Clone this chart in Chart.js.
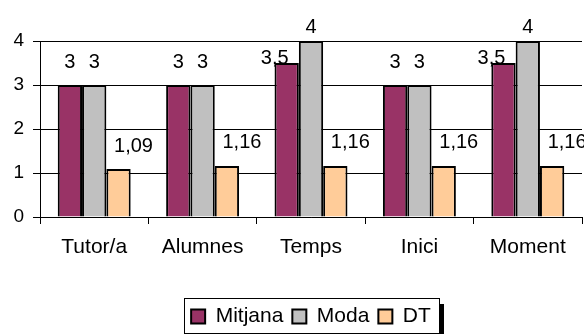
<!DOCTYPE html>
<html>
<head>
<meta charset="utf-8">
<script src="https://cdn.jsdelivr.net/npm/chart.js"></script>
<style>
  body { margin: 0; background: #fff; }
  #wrap { width: 584px; height: 334px; }
</style>
</head>
<body>
<div id="wrap"><canvas id="chart" width="584" height="334"></canvas></div>
<script>
const categories = ["Tutor/a", "Alumnes", "Temps", "Inici", "Moment"];
const mitjana = [3, 3, 3.5, 3, 3.5];
const moda = [3, 3, 4, 3, 4];
const dt = [1.09, 1.16, 1.16, 1.16, 1.16];
const yTicks = [0, 1, 2, 3, 4];

const FONT = "'Liberation Sans', Arial, sans-serif";

// value labels above bars, comma as decimal mark
const valueLabels = {
  id: "valueLabels",
  afterDatasetsDraw(chart) {
    const ctx = chart.ctx;
    ctx.save();
    ctx.font = "20px " + FONT;
    ctx.fillStyle = "#000";
    ctx.textAlign = "center";
    ctx.textBaseline = "middle";
    chart.data.datasets.forEach((ds, di) => {
      chart.getDatasetMeta(di).data.forEach((bar, i) => {
        const v = ds.data[i];
        let dx = 0;
        let y = bar.y - 23;
        if (di === 2) dx = 15;
        if (di === 0 && v % 1 !== 0) { dx = -12; y = bar.y - 5; }
        if (y < 27) y = 27;
        ctx.fillText(String(v).replace(".", ","), bar.x + dx, y);
      });
    });
    ctx.restore();
  }
};

// frame round the legend, with its shadow
const legendFrame = {
  id: "legendFrame",
  afterDraw(chart) {
    const hb = chart.legend.legendHitBoxes;
    if (!hb || !hb.length) return;
    const last = hb[hb.length - 1];
    const left = Math.round(hb[0].left - 7);
    const right = Math.round(last.left + last.width + 8);
    const top = Math.round(hb[0].top - 8);
    const bottom = Math.round(hb[0].top + 27);
    const ctx = chart.ctx;
    ctx.save();
    ctx.strokeStyle = "#000";
    ctx.lineWidth = 1;
    ctx.strokeRect(left + 0.5, top + 0.5, right - left, bottom - top);
    ctx.fillStyle = "#000";
    ctx.fillRect(right + 1, top + 6, 4, 334 - top);
    ctx.restore();
  }
};

new Chart(document.getElementById("chart"), {
  type: "bar",
  data: {
    labels: categories,
    datasets: [
      { label: "Mitjana", data: mitjana, backgroundColor: "#993366" },
      { label: "Moda", data: moda, backgroundColor: "#C0C0C0" },
      { label: "DT", data: dt, backgroundColor: "#FFCC99" }
    ]
  },
  options: {
    responsive: false,
    animation: false,
    layout: { padding: { left: 0, right: 2, top: 41, bottom: -3 } },
    datasets: {
      bar: {
        categoryPercentage: 0.673,
        barPercentage: 1,
        borderColor: "#000",
        borderWidth: 2
      }
    },
    scales: {
      x: {
        offset: true,
        afterFit(scale) { scale.height = 80; },
        grid: { offset: true, drawOnChartArea: false, color: "#000", tickLength: 7 },
        border: { color: "#000", width: 1 },
        ticks: { color: "#000", padding: 11, font: { family: FONT, size: 21 } }
      },
      y: {
        min: 0,
        max: 4,
        afterFit(scale) { scale.width = 40; },
        afterBuildTicks(scale) { scale.ticks = yTicks.map(v => ({ value: v })); },
        grid: { color: "#000", lineWidth: 1, tickLength: 7 },
        border: { color: "#000", width: 1 },
        ticks: { color: "#000", padding: 9, font: { family: FONT, size: 19 } }
      }
    },
    plugins: {
      legend: {
        position: "bottom",
        fullSize: false,
        labels: {
          color: "#000",
          boxWidth: 14,
          boxHeight: 14,
          padding: 9,
          font: { family: FONT, size: 21 }
        }
      },
      tooltip: { enabled: false }
    }
  },
  plugins: [valueLabels, legendFrame]
});
</script>
</body>
</html>
